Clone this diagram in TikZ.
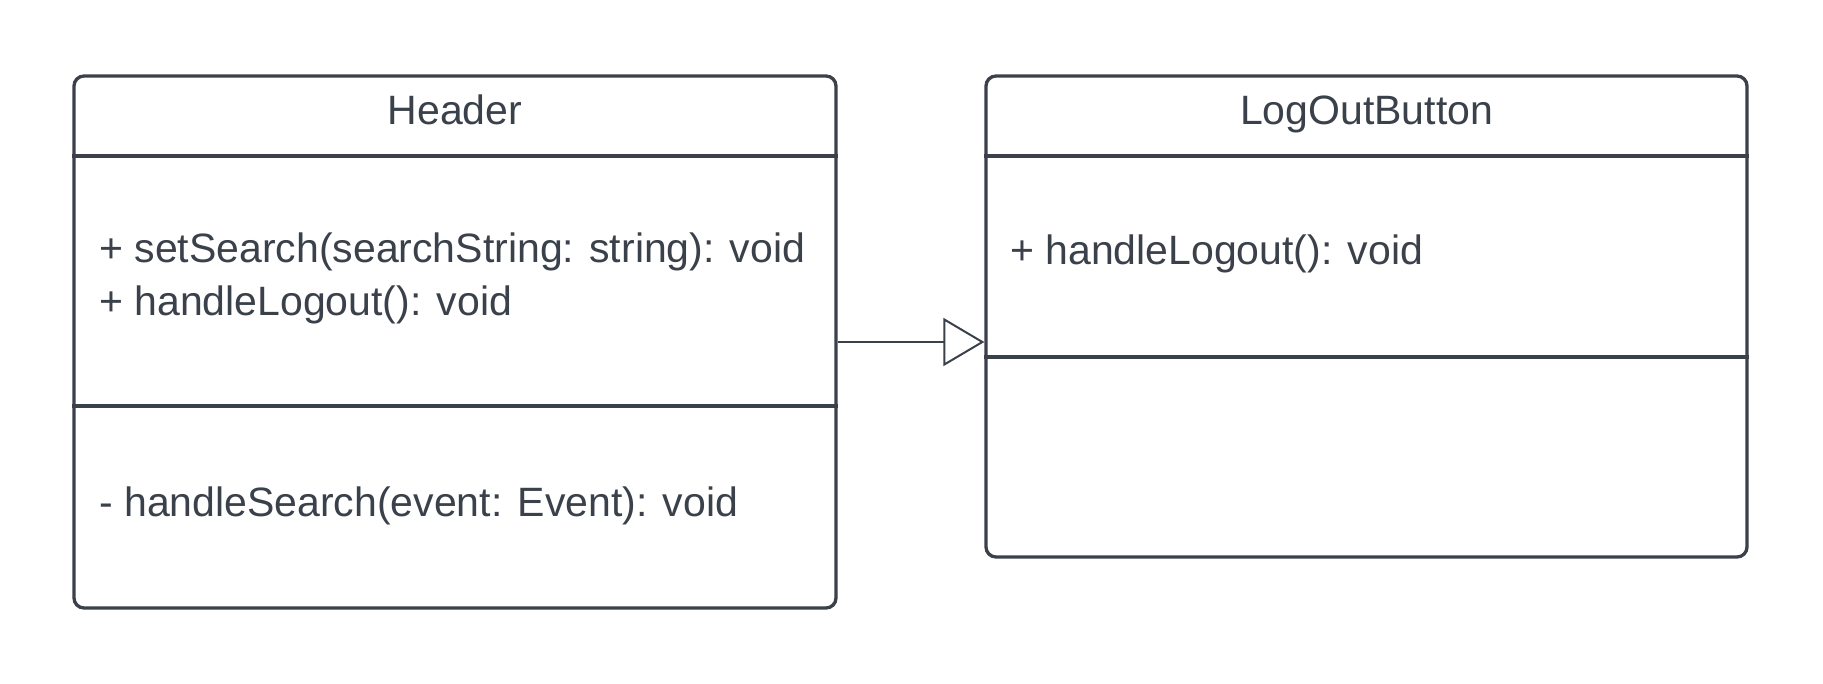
\documentclass[tikz,border=0pt]{standalone}
\usepackage{fontspec}
\setmainfont{Liberation Sans}
\usetikzlibrary{arrows.meta}
\definecolor{ink}{RGB}{58,65,74}
\begin{document}
\begin{tikzpicture}[x=1pt,y=-1pt,
  classbox/.style={draw=ink, line width=3.3pt, rounded corners=10pt, inner sep=0pt, fill=white},
  divider/.style={draw=ink, line width=3.3pt},
  title/.style={anchor=base, inner sep=0pt, text=ink, font=\fontsize{41}{53}\selectfont},
  member/.style={anchor=base west, inner sep=0pt, text=ink, font=\fontsize{41}{53}\selectfont},
  inherit/.style={draw=ink, line width=2pt, -{Triangle[open, length=41pt, width=48pt, line width=2pt]}}]
\useasboundingbox (0,0) rectangle (1823,683);
% Header class
\node[classbox, minimum width=762pt, minimum height=532pt] (hdr) at (455,342) {};
\draw[divider] (hdr.west |- 0,156) -- (hdr.east |- 0,156);
\draw[divider] (hdr.west |- 0,406) -- (hdr.east |- 0,406);
\node[title] (hdrtitle) at (455,124) {Header};
\node[member] (m1) at (99,262) {+ setSearch(searchString: string): void};
\node[member] (m2) at (99,315) {+ handleLogout(): void};
\node[member] (m3) at (99,516) {- handleSearch(event: Event): void};
% LogOutButton class
\node[classbox, minimum width=761pt, minimum height=481pt] (lob) at (1366.5,316.5) {};
\draw[divider] (lob.west |- 0,156) -- (lob.east |- 0,156);
\draw[divider] (lob.west |- 0,357) -- (lob.east |- 0,357);
\node[title] (lobtitle) at (1366.5,124) {LogOutButton};
\node[member] (l1) at (1010,264) {+ handleLogout(): void};
% Generalization
\coordinate (src) at (hdr.east |- 0,342);
\coordinate (dst) at (lob.west |- 0,342);
\draw[inherit] (src) -- (dst);
\end{tikzpicture}
\end{document}
